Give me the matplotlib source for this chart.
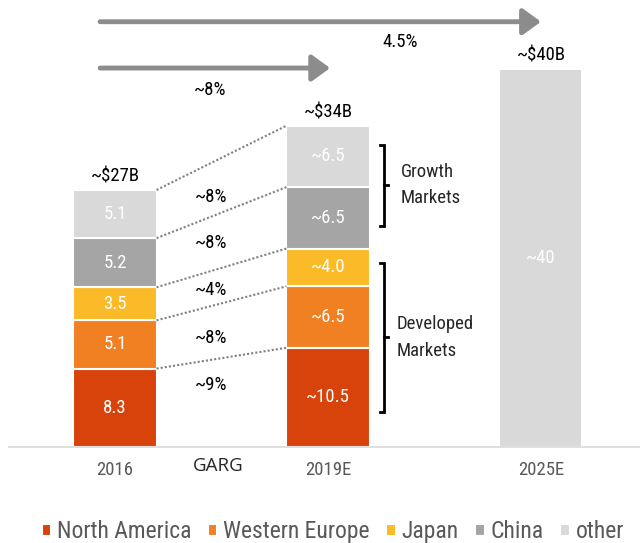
import matplotlib.pyplot as plt
import numpy as np

# market size by region, $B
years = ["2016", "2019E", "2025E"]
regions = ["North America", "Western Europe", "Japan", "China", "other"]
colors = ["#D8430C", "#F08022", "#FBBA27", "#A5A5A5", "#D9D9D9"]
vals_2016 = [8.3, 5.1, 3.5, 5.2, 5.1]
vals_2019 = [10.5, 6.5, 4.0, 6.5, 6.5]
labels_2016 = ["8.3", "5.1", "3.5", "5.2", "5.1"]
labels_2019 = ["~10.5", "~6.5", "~4.0", "~6.5", "~6.5"]
total_2025 = 40
totals = ["~$27B", "~$34B", "~$40B"]
cagr = ["~9%", "~8%", "~4%", "~8%", "~8%"]
cagr_y = [6.6, 11.5, 16.6, 21.6, 26.5]
cagr_2019 = "~8%"
cagr_2025 = "4.5%"

plt.rcParams["font.family"] = ["Roboto Condensed", "DejaVu Sans"]
fs = 13.5

fig = plt.figure(figsize=(6.4, 5.43), dpi=100)
ax = fig.add_axes([0, 96 / 543, 1, 447 / 543])
ax.set_xlim(-0.54, 2.465)
ax.set_ylim(0, 47.3)
for s in ax.spines.values():
    s.set_visible(False)
ax.set_yticks([])

w = 0.39
x = np.arange(len(years))

# stacked bars for 2016 and 2019E
bottom16 = 0
bottom19 = 0
for i in range(len(regions)):
    ax.bar(x[0], vals_2016[i], w, bottom=bottom16, color=colors[i],
           edgecolor="white", linewidth=1.5, label=regions[i])
    ax.bar(x[1], vals_2019[i], w, bottom=bottom19, color=colors[i],
           edgecolor="white", linewidth=1.5)
    ax.text(x[0], bottom16 + vals_2016[i] / 2, labels_2016[i], color="white",
            ha="center", va="center", fontsize=fs)
    ax.text(x[1], bottom19 + vals_2019[i] / 2, labels_2019[i], color="white",
            ha="center", va="center", fontsize=fs)
    bottom16 += vals_2016[i]
    bottom19 += vals_2019[i]
    # dotted connector between segment tops
    ax.plot([x[0] + w / 2, x[1] - w / 2], [bottom16, bottom19],
            color="#808080", linestyle=(0, (1, 1)), linewidth=1.5)
    ax.text(0.45, cagr_y[i], cagr[i], ha="center", va="center", fontsize=fs)

ax.bar(x[2], total_2025, w, color=colors[4], edgecolor="white", linewidth=1.5)
ax.text(x[2], total_2025 / 2, "~40", color="white", ha="center", va="center",
        fontsize=fs)

for xi, top, t in zip(x, [bottom16, bottom19, total_2025], totals):
    ax.annotate(t, (xi, top), xytext=(0, 3), textcoords="offset points",
                ha="center", va="bottom", fontsize=fs)

# growth arrows
arrow = dict(arrowstyle="-|>,head_length=0.55,head_width=0.4", lw=3.5,
             color="#8C8C8C", shrinkA=0, shrinkB=0, mutation_scale=20)
ax.annotate("", xy=(x[2], 45.0), xytext=(-0.07, 45.0), arrowprops=arrow)
ax.annotate("", xy=(x[1] + 0.01, 40.1), xytext=(-0.07, 40.1), arrowprops=arrow)
ax.text(1.34, 42.9, cagr_2025, ha="center", va="center", fontsize=fs)
ax.text(0.446, 37.8, cagr_2019, ha="center", va="center", fontsize=fs)


# square brackets with a small tip in the middle
def brace(y0, y1, xb=1.265):
    ym = (y0 + y1) / 2
    ax.plot([xb - 0.02, xb, xb, xb - 0.02], [y1, y1, y0, y0], color="black",
            lw=2, solid_joinstyle="miter")
    ax.plot([xb, xb + 0.015], [ym, ym], color="black", lw=2)


brace(sum(vals_2019[:3]) + 2.4, bottom19 - 2.0)
brace(3.7, sum(vals_2019[:3]) - 1.5)
ax.text(1.34, (sum(vals_2019[:3]) + 2.4 + bottom19 - 2.0) / 2, "Growth\nMarkets",
        ha="left", va="center", fontsize=fs, linespacing=1.6, color="#262626")
ax.text(1.32, (3.7 + sum(vals_2019[:3]) - 1.5) / 2, "Developed\nMarkets",
        ha="left", va="center", fontsize=fs, linespacing=1.6, color="#262626")

# baseline
ax.plot([-0.5, 2.465], [0, 0], color="#D9D9D9", lw=1.2, clip_on=False)
ax.set_xticks(x)
ax.set_xticklabels(years, fontsize=fs, color="#595959")
ax.tick_params(axis="x", length=0, pad=10)
ax.text(0.487, -2.0, "GARG", ha="center", va="center", fontsize=13.5,
        family=["Open Sans", "DejaVu Sans"], color="#262626")

fig.legend(loc="center", bbox_to_anchor=(0.52, 0.021), ncol=5,
           frameon=False, fontsize=17, handlelength=0.4, handleheight=0.4,
           handletextpad=0.25, columnspacing=0.7, labelcolor="#595959")

fig.savefig("out.png", dpi=100)
